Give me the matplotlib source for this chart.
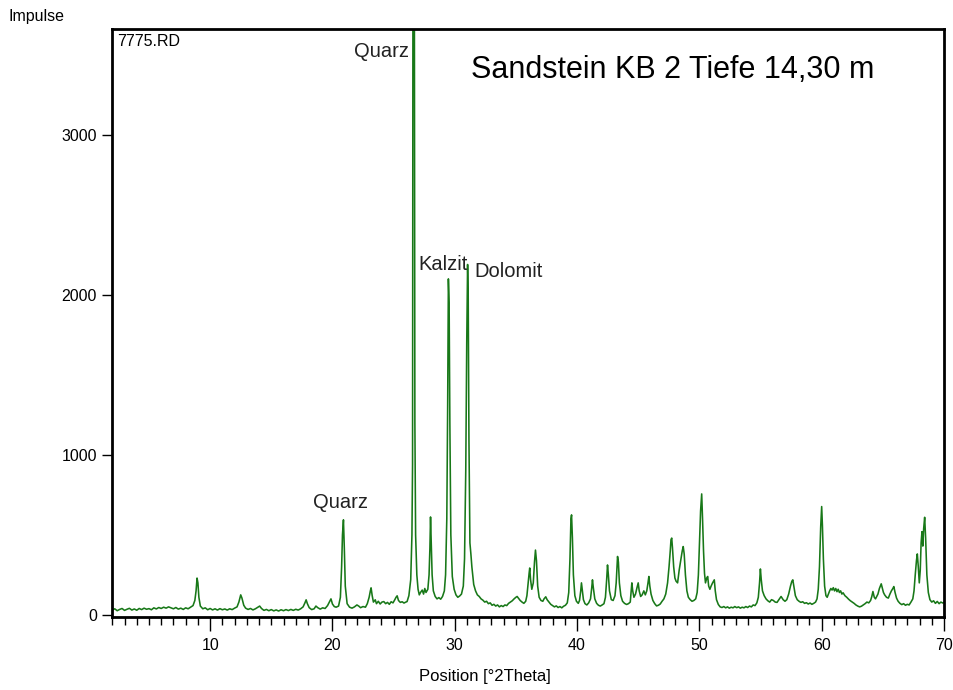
#!/usr/bin/env python

import matplotlib
matplotlib.use('Agg')
import matplotlib.pyplot
from matplotlib.ticker import MultipleLocator

# XRD pattern (position in deg 2Theta, counts)
two_theta = [
	2.0, 2.2, 2.4, 2.6, 2.8, 3.0, 3.2, 3.4, 3.6, 3.8,
	4.0, 4.2, 4.4, 4.6, 4.8, 5.0, 5.2, 5.4, 5.6, 5.8,
	6.0, 6.2, 6.4, 6.6, 6.8, 7.0, 7.2, 7.4, 7.6, 7.8,
	8.0, 8.2, 8.4, 8.6, 8.75, 8.85, 8.93, 9.0, 9.08, 9.2,
	9.4, 9.6, 9.8, 10.0, 10.2, 10.4, 10.6, 10.8, 11.0, 11.2,
	11.4, 11.6, 11.8, 12.0, 12.2, 12.35, 12.5, 12.6, 12.75, 12.9,
	13.1, 13.3, 13.5, 13.7, 13.9, 14.05, 14.2, 14.4, 14.6, 14.8,
	15.0, 15.2, 15.4, 15.6, 15.8, 16.0, 16.2, 16.4, 16.6, 16.8,
	17.0, 17.2, 17.4, 17.6, 17.75, 17.85, 17.95, 18.1, 18.3, 18.5,
	18.65, 18.8, 19.0, 19.2, 19.4, 19.6, 19.75, 19.88, 20.0, 20.15,
	20.3, 20.5, 20.65, 20.75, 20.82, 20.9, 20.97, 21.05, 21.2, 21.4,
	21.6, 21.8, 22.0, 22.15, 22.3, 22.5, 22.7, 22.85, 23.0, 23.1,
	23.16, 23.25, 23.35, 23.5, 23.6, 23.75, 23.9, 24.05, 24.2, 24.35,
	24.5, 24.65, 24.8, 24.95, 25.1, 25.2, 25.29, 25.4, 25.55, 25.7,
	25.85, 26.0, 26.1, 26.25, 26.4, 26.5, 26.55, 26.58, 26.7, 26.74,
	26.8, 26.9, 27.0, 27.1, 27.2, 27.34, 27.45, 27.55, 27.65, 27.8,
	27.9, 27.97, 28.02, 28.08, 28.15, 28.25, 28.4, 28.55, 28.7, 28.85,
	29.0, 29.15, 29.25, 29.35, 29.42, 29.48, 29.54, 29.6, 29.68, 29.8,
	29.95, 30.1, 30.25, 30.4, 30.55, 30.7, 30.8, 30.9, 30.98, 31.05,
	31.1, 31.16, 31.24, 31.32, 31.4, 31.55, 31.7, 31.85, 32.0, 32.15,
	32.3, 32.45, 32.6, 32.75, 32.9, 33.05, 33.2, 33.35, 33.5, 33.65,
	33.8, 33.95, 34.1, 34.25, 34.4, 34.55, 34.7, 34.85, 35.0, 35.1,
	35.2, 35.35, 35.5, 35.65, 35.8, 35.9, 36.0, 36.08, 36.13, 36.2,
	36.3, 36.42, 36.52, 36.6, 36.68, 36.78, 36.9, 37.05, 37.2, 37.3,
	37.44, 37.55, 37.7, 37.85, 38.0, 38.15, 38.3, 38.45, 38.6, 38.75,
	38.9, 39.05, 39.2, 39.32, 39.42, 39.5, 39.55, 39.62, 39.7, 39.82,
	39.95, 40.1, 40.2, 40.3, 40.36, 40.42, 40.52, 40.65, 40.8, 40.95,
	41.1, 41.2, 41.26, 41.33, 41.45, 41.6, 41.75, 41.9, 42.05, 42.2,
	42.32, 42.42, 42.49, 42.56, 42.65, 42.8, 42.95, 43.1, 43.2, 43.31,
	43.38, 43.46, 43.58, 43.72, 43.88, 44.05, 44.2, 44.35, 44.48, 44.55,
	44.65, 44.78, 44.9, 45.0, 45.08, 45.2, 45.32, 45.46, 45.58, 45.7,
	45.8, 45.87, 45.95, 46.05, 46.2, 46.35, 46.5, 46.65, 46.8, 46.95,
	47.1, 47.25, 47.4, 47.52, 47.62, 47.68, 47.74, 47.8, 47.9, 48.0,
	48.1, 48.22, 48.35, 48.5, 48.6, 48.68, 48.76, 48.86, 48.98, 49.1,
	49.25, 49.4, 49.55, 49.7, 49.82, 49.92, 50.02, 50.1, 50.19, 50.26,
	50.34, 50.42, 50.5, 50.6, 50.68, 50.76, 50.86, 50.96, 51.08, 51.22,
	51.3, 51.4, 51.55, 51.7, 51.85, 52.0, 52.15, 52.3, 52.45, 52.6,
	52.75, 52.9, 53.05, 53.2, 53.35, 53.5, 53.65, 53.8, 53.95, 54.1,
	54.25, 54.4, 54.55, 54.7, 54.82, 54.92, 54.99, 55.06, 55.16, 55.3,
	55.45, 55.6, 55.75, 55.9, 56.05, 56.2, 56.35, 56.5, 56.68, 56.85,
	57.0, 57.15, 57.3, 57.45, 57.56, 57.64, 57.72, 57.85, 58.0, 58.15,
	58.3, 58.45, 58.6, 58.75, 58.9, 59.05, 59.2, 59.35, 59.5, 59.62,
	59.72, 59.82, 59.92, 60.0, 60.06, 60.14, 60.24, 60.35, 60.45, 60.55,
	60.65, 60.75, 60.85, 60.95, 61.05, 61.15, 61.25, 61.35, 61.45, 61.55,
	61.65, 61.75, 61.9, 62.05, 62.2, 62.35, 62.5, 62.65, 62.8, 62.95,
	63.1, 63.25, 63.4, 63.55, 63.7, 63.85, 64.0, 64.1, 64.19, 64.3,
	64.4, 64.5, 64.6, 64.72, 64.8, 64.87, 64.95, 65.05, 65.15, 65.3,
	65.45, 65.58, 65.7, 65.82, 65.9, 66.0, 66.12, 66.25, 66.4, 66.55,
	66.7, 66.85, 67.0, 67.15, 67.3, 67.45, 67.55, 67.65, 67.75, 67.82,
	67.9, 67.98, 68.06, 68.13, 68.2, 68.27, 68.34, 68.42, 68.5, 68.6,
	68.72, 68.85, 69.0, 69.15, 69.3, 69.45, 69.6, 69.75, 69.9, 70.0,
]
impulse = [
	30, 38, 26, 34, 40, 28, 35, 41, 30, 37,
	29, 40, 33, 42, 35, 39, 32, 44, 37, 46,
	40, 48, 42, 50, 44, 38, 46, 36, 42, 34,
	44, 38, 48, 58, 90, 150, 230, 200, 110, 55,
	38, 44, 32, 40, 31, 38, 30, 39, 32, 37,
	30, 38, 33, 42, 50, 80, 125, 105, 60, 42,
	34, 40, 31, 38, 48, 55, 40, 28, 34, 26,
	33, 25, 31, 24, 32, 26, 33, 27, 34, 28,
	35, 30, 38, 50, 75, 94, 70, 45, 33, 38,
	55, 45, 36, 44, 40, 58, 80, 100, 68, 52,
	48, 55, 110, 300, 500, 594, 420, 180, 70, 48,
	42, 50, 62, 55, 45, 52, 48, 70, 110, 150,
	169, 120, 80, 94, 70, 85, 68, 80, 83, 70,
	78, 66, 82, 75, 95, 110, 119, 90, 78, 82,
	74, 80, 83, 120, 220, 500, 940, 3800, 3800, 1200,
	500, 250, 160, 125, 140, 155, 130, 165, 140, 160,
	250, 420, 612, 450, 250, 150, 115, 100, 108, 98,
	115, 150, 250, 600, 1300, 2100, 1950, 1200, 500, 240,
	160, 125, 110, 118, 130, 180, 350, 900, 1700, 2190,
	2000, 1100, 450, 380, 300, 190, 150, 125, 115, 100,
	92, 80, 85, 70, 75, 60, 66, 55, 62, 50,
	58, 52, 62, 58, 72, 80, 88, 100, 110, 115,
	105, 90, 80, 72, 85, 120, 200, 260, 293, 220,
	160, 200, 330, 405, 340, 180, 110, 90, 85, 100,
	113, 95, 80, 66, 58, 50, 56, 46, 52, 44,
	54, 60, 75, 140, 350, 600, 625, 480, 250, 120,
	85, 72, 90, 150, 200, 160, 95, 70, 62, 75,
	100, 170, 219, 170, 100, 72, 60, 55, 62, 70,
	110, 220, 312, 250, 150, 95, 90, 120, 200, 365,
	330, 200, 120, 85, 72, 65, 70, 80, 200, 150,
	110, 130, 170, 200, 150, 115, 125, 150, 125, 150,
	200, 240, 180, 130, 90, 70, 56, 60, 68, 85,
	100, 130, 200, 300, 400, 470, 480, 420, 300, 230,
	210, 200, 280, 350, 400, 427, 380, 250, 150, 110,
	95, 85, 90, 100, 140, 250, 480, 650, 756, 600,
	400, 260, 200, 230, 240, 180, 160, 180, 200, 219,
	150, 95, 65, 50, 46, 52, 44, 50, 42, 48,
	44, 52, 45, 50, 42, 48, 44, 52, 46, 55,
	50, 62, 58, 75, 110, 200, 287, 220, 150, 120,
	100, 88, 80, 95, 90, 80, 78, 95, 115, 95,
	85, 95, 130, 180, 210, 219, 180, 120, 95, 85,
	78, 82, 72, 76, 68, 74, 66, 72, 80, 100,
	160, 300, 550, 677, 560, 350, 180, 120, 110, 130,
	150, 165, 155, 170, 150, 165, 145, 160, 140, 150,
	130, 138, 120, 110, 98, 88, 80, 72, 62, 55,
	50, 54, 62, 70, 80, 75, 90, 115, 146, 110,
	100, 115, 130, 165, 180, 194, 170, 140, 125, 110,
	105, 130, 150, 165, 177, 140, 105, 85, 72, 64,
	70, 60, 66, 62, 80, 100, 150, 250, 340, 381,
	300, 200, 280, 450, 520, 430, 540, 610, 480, 250,
	140, 95, 80, 88, 72, 84, 70, 80, 74, 78,
]

x_major = [10, 20, 30, 40, 50, 60, 70]
y_major = [0, 1000, 2000, 3000]

title = 'Sandstein KB 2 Tiefe 14,30 m'
sample = '7775.RD'

matplotlib.pyplot.rcParams['font.family'] = ['Liberation Sans', 'DejaVu Sans']

fig = matplotlib.pyplot.figure(figsize=(9.54, 6.9), dpi=100)
ax = fig.add_axes([0.1177, 0.1054, 0.8718, 0.8526])
ax.plot(two_theta, impulse, color='#187818', lw=1.15)

ax.set_xlim(2, 70)
ax.set_ylim(-15, 3662)
ax.set_xticks(x_major)
ax.set_yticks(y_major)
ax.xaxis.set_minor_locator(MultipleLocator(1))
ax.tick_params(axis='x', which='major', length=10, width=1, pad=5, labelsize=11.5, colors='black')
ax.tick_params(axis='x', which='minor', length=5.5, width=1)
ax.tick_params(axis='y', which='major', length=7, width=1, pad=4, labelsize=11.5)
for s in ax.spines.values():
	s.set_linewidth(2.0)
	s.set_color('black')

# annotations
ax.text(2.38, 3581, sample, fontsize=11.5, va='center', ha='left')
ax.text(31.3, 3406, title, fontsize=22, va='center', ha='left')
ax.text(26.22, 3519, 'Quarz', fontsize=14.5, va='center', ha='right', color='#222222')
ax.text(27.03, 2188, 'Kalzit', fontsize=14.5, va='center', ha='left', color='#222222')
ax.text(31.62, 2144, 'Dolomit', fontsize=14.5, va='center', ha='left', color='#222222')
ax.text(20.65, 700, 'Quarz', fontsize=14.5, va='center', ha='center', color='#222222')

fig.text(8/954., 1-17/690., 'Impulse', fontsize=11.5, va='center', ha='left')
fig.text(485/954., 1-677/690., 'Position [°2Theta]', fontsize=12, va='center', ha='center')

fig.savefig('out.png', dpi=100)
matplotlib.pyplot.close(fig)
